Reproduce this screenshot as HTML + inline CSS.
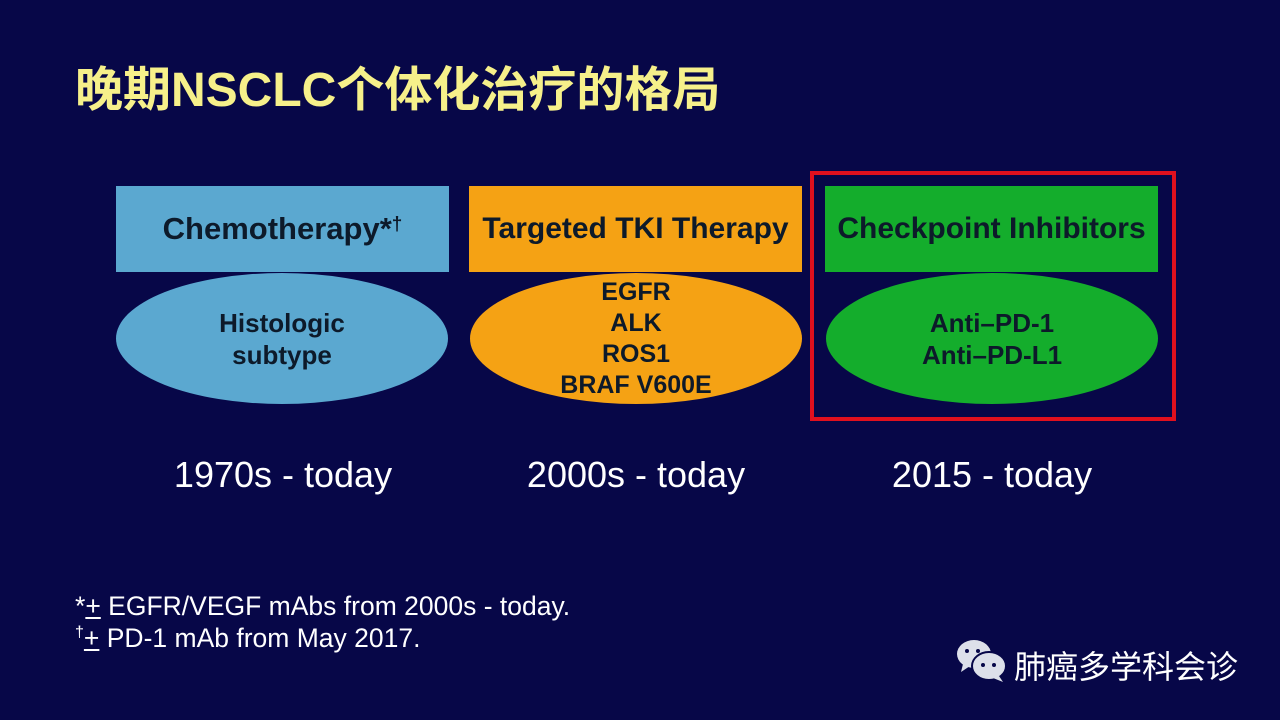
<!DOCTYPE html>
<html><head><meta charset="utf-8"><style>
body{margin:0;width:1280px;height:720px;background:#070748;position:relative;overflow:hidden;font-family:"Liberation Sans","Noto Sans CJK SC",sans-serif}
.a{position:absolute}
.title{left:75px;top:50px;font-size:48px;font-weight:bold;color:#f6f08a;white-space:nowrap}
.box{height:86px;top:186px;display:flex;align-items:center;justify-content:center;font-weight:bold;font-size:31px;color:#0d1a2a;white-space:nowrap}
.ell{top:273px;height:131px;border-radius:50%;display:flex;align-items:center;justify-content:center;text-align:center;font-weight:bold;font-size:26px;line-height:32px;color:#0d1a2a}
.yr{top:454px;font-size:36px;color:#fff;width:400px;text-align:center}
.fn{left:75px;font-size:26.5px;color:#fff;white-space:nowrap}
</style></head><body>
<div class="a title">晚期NSCLC个体化治疗的格局</div>
<div class="a box" style="left:116px;width:333px;background:#5ba8d0">Chemotherapy*<sup style="font-size:19px;position:relative;top:-4px">†</sup></div>
<div class="a ell" style="left:116px;width:332px;background:#5ba8d0">Histologic<br>subtype</div>
<div class="a box" style="left:469px;width:333px;background:#f5a214;font-size:30px">Targeted TKI Therapy</div>
<div class="a ell" style="left:470px;width:332px;background:#f5a214;line-height:31px;font-size:25px">EGFR<br>ALK<br>ROS1<br>BRAF V600E</div>
<div class="a box" style="left:825px;width:333px;background:#14ad2c;font-size:30px">Checkpoint Inhibitors</div>
<div class="a ell" style="left:826px;width:332px;background:#14ad2c">Anti–PD-1<br>Anti–PD-L1</div>
<div class="a" style="left:810px;top:171px;width:358px;height:242px;border:4px solid #e0101e"></div>
<div class="a yr" style="left:83px">1970s - today</div>
<div class="a yr" style="left:436px">2000s - today</div>
<div class="a yr" style="left:792px">2015 - today</div>
<div class="a fn" style="top:591px">*<u>+</u> EGFR/VEGF mAbs from 2000s - today.</div>
<div class="a fn" style="top:623px"><sup style="font-size:16px">†</sup><u>+</u> PD-1 mAb from May 2017.</div>
<svg class="a" style="left:955px;top:638px" width="55" height="46" viewBox="0 0 55 46">
<ellipse cx="19" cy="16" rx="17" ry="14" fill="#dde0ea"/><path d="M8 26 L6 34 L15 28Z" fill="#dde0ea"/>
<ellipse cx="34" cy="28" rx="17" ry="14" fill="#dde0ea" stroke="#070748" stroke-width="2"/><path d="M44 38 L48 44 L38 40Z" fill="#dde0ea"/>
<circle cx="12" cy="13" r="2" fill="#070748"/><circle cx="23" cy="13" r="2" fill="#070748"/>
<circle cx="28" cy="27" r="2" fill="#070748"/><circle cx="39" cy="27" r="2" fill="#070748"/>
</svg>
<div class="a" style="left:1014px;top:642px;font-size:32px;color:#fff">肺癌多学科会诊</div>
</body></html>
